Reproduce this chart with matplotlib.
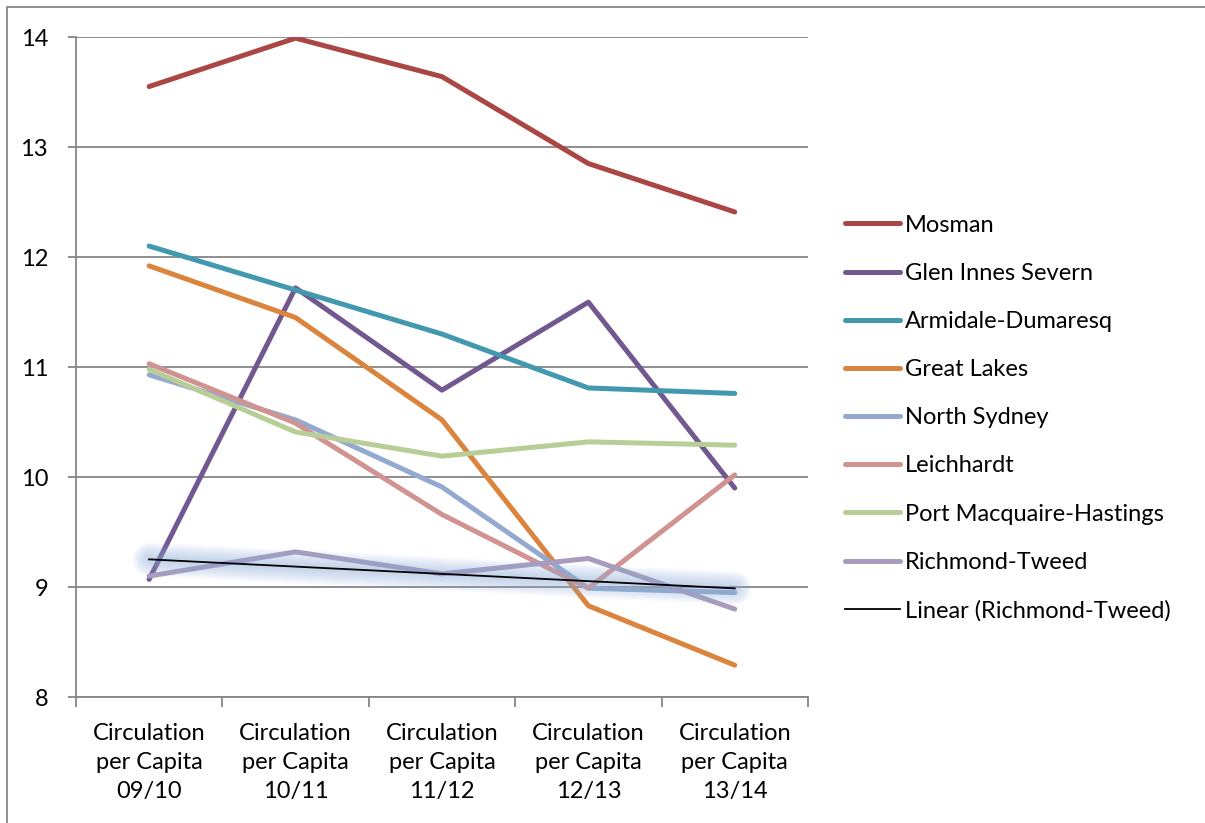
import numpy as np
import matplotlib.pyplot as plt
import matplotlib.patches as patches

plt.rcParams['font.family'] = ['Lato', 'DejaVu Sans']

# circulation per capita by council, 09/10 .. 13/14
periods = ['09/10', '10/11', '11/12', '12/13', '13/14']
mosman = [13.55, 13.99, 13.64, 12.85, 12.41]
glen_innes = [9.07, 11.72, 10.79, 11.59, 9.90]
armidale = [12.10, 11.70, 11.30, 10.81, 10.76]
great_lakes = [11.92, 11.45, 10.52, 8.83, 8.29]
north_sydney = [10.93, 10.52, 9.91, 8.99, 8.95]
leichhardt = [11.03, 10.49, 9.66, 8.99, 10.02]
port_macquarie = [10.98, 10.41, 10.19, 10.32, 10.29]
richmond_tweed = [9.10, 9.32, 9.12, 9.26, 8.80]

series = [
    ('Mosman', mosman, '#AA4643'),
    ('Glen Innes Severn', glen_innes, '#71588F'),
    ('Armidale-Dumaresq', armidale, '#4198AF'),
    ('Great Lakes', great_lakes, '#DB843D'),
    ('North Sydney', north_sydney, '#93A9CF'),
    ('Leichhardt', leichhardt, '#D19392'),
    ('Port Macquaire-Hastings', port_macquarie, '#B9CD96'),
    ('Richmond-Tweed', richmond_tweed, '#A99BBD'),
]

fig = plt.figure(figsize=(12.05, 8.23), dpi=100)
ax = fig.add_axes([0.063, 0.153, 0.6075, 0.802])

x = np.arange(len(periods))
for name, vals, col in series:
    ax.plot(x, vals, color=col, lw=3.6, solid_capstyle='round',
            solid_joinstyle='round', label=name)

# linear trend for Richmond-Tweed with a soft glow behind it
k, b = np.polyfit(x, richmond_tweed, 1)
trend = k * x + b
for w in np.arange(24, 3, -2):
    ax.plot(x, trend, color='#8FB0DC', lw=w, alpha=0.055,
            solid_capstyle='round', zorder=3)
ax.plot(x, trend, color='black', lw=1.3, zorder=4,
        label='Linear (Richmond-Tweed)')

ax.set_xlim(-0.5, 4.5)
ax.set_ylim(8, 14)
ax.set_yticks(range(8, 15))
ax.grid(axis='y', color='#868686', lw=1.3)
ax.set_axisbelow(True)
ax.set_xticks(x)
ax.set_xticklabels(['Circulation\nper Capita\n' + p for p in periods],
                   fontsize=17, linespacing=1.45)
ax.set_xticks(np.arange(-0.5, 5, 1), minor=True)
ax.tick_params(axis='x', which='major', length=0, pad=19)
ax.tick_params(axis='x', which='minor', length=7, width=1.3, color='#868686')
ax.tick_params(axis='y', length=6, width=1.3, color='#868686',
               labelsize=17, pad=14)
for s in ['top', 'right']:
    ax.spines[s].set_visible(False)
for s in ['left', 'bottom']:
    ax.spines[s].set_color('#868686')
    ax.spines[s].set_linewidth(1.3)

ax.legend(loc='center left', bbox_to_anchor=(0.701, 0.492),
          bbox_transform=fig.transFigure, frameon=False, fontsize=17,
          handlelength=2.35, handletextpad=0.2, labelspacing=1.15,
          borderaxespad=0, borderpad=0)

# outer chart border
fig.patches.append(patches.Rectangle((7 / 1205, -0.1), 1.1, 1.1 - 7 / 823,
                                     transform=fig.transFigure, fill=False,
                                     edgecolor='#868686', lw=1.3))

fig.savefig('out.png', dpi=100)
